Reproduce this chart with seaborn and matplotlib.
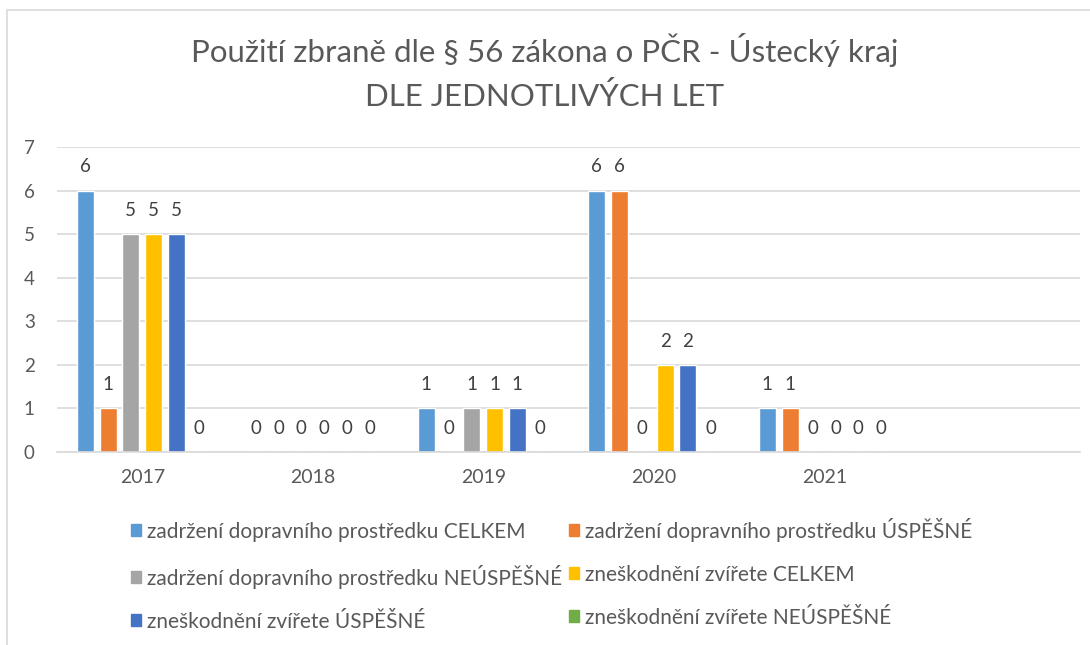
import numpy as np
import pandas as pd
import matplotlib
matplotlib.use("Agg")
import matplotlib.pyplot as plt
import seaborn as sns
from matplotlib.patches import Rectangle

# data
years = ['2017', '2018', '2019', '2020', '2021']
series = ['zadržení dopravního prostředku CELKEM',
          'zadržení dopravního prostředku ÚSPĚŠNÉ',
          'zadržení dopravního prostředku NEÚSPĚŠNÉ',
          'zneškodnění zvířete CELKEM',
          'zneškodnění zvířete ÚSPĚŠNÉ',
          'zneškodnění zvířete NEÚSPĚŠNÉ']
zadrz_celkem = [6, 0, 1, 6, 1]
zadrz_uspesne = [1, 0, 0, 6, 1]
zadrz_neuspesne = [5, 0, 1, 0, 0]
zvire_celkem = [5, 0, 1, 2, 0]
zvire_uspesne = [5, 0, 1, 2, 0]
zvire_neuspesne = [0, 0, 0, 0, 0]
colors = ['#5B9BD5', '#ED7D31', '#A5A5A5', '#FFC000', '#4472C4', '#70AD47']

all_vals = [zadrz_celkem, zadrz_uspesne, zadrz_neuspesne,
            zvire_celkem, zvire_uspesne, zvire_neuspesne]
rows = []
for name, vals in zip(series, all_vals):
    for y, v in zip(years, vals):
        rows.append((y, name, v))
df = pd.DataFrame(rows, columns=['rok', 'serie', 'pocet'])

sns.set_style('white')
plt.rcParams['font.family'] = ['Lato', 'DejaVu Sans']
txt = '#595959'

fig = plt.figure(figsize=(10.9, 6.45), dpi=100)
ax = fig.add_axes([57/1090, 193/645, (1080-57)/1090, (452-147)/645])

# empty sixth slot like in the original
order = years + ['']
sns.barplot(data=df, x='rok', y='pocet', hue='serie', order=order,
            hue_order=series, palette=colors, width=0.8, gap=0.25,
            saturation=1, legend=False, ax=ax, errorbar=None)

for c in ax.containers:
    ax.bar_label(c, padding=11, fontsize=13.5, color='#404040')

ax.set_xlim(-0.5, 5.5)
ax.set_ylim(0, 7)
ax.set_yticks(range(8))
ax.yaxis.grid(True, color='#D9D9D9', linewidth=1.2)
ax.set_axisbelow(True)
ax.set_xlabel('')
ax.set_ylabel('')
for s in ['left', 'right', 'top']:
    ax.spines[s].set_visible(False)
ax.spines['bottom'].set_color('#D9D9D9')
ax.spines['bottom'].set_linewidth(1.2)
ax.tick_params(axis='y', length=0, pad=16, labelsize=13.5, labelcolor=txt)
ax.tick_params(axis='x', which='major', length=0, pad=12, labelsize=14, labelcolor=txt)
ax.set_xticks(np.arange(-0.5, 6, 1), minor=True)
ax.tick_params(axis='x', which='minor', length=6, color='#D9D9D9', width=1.2, direction='out')

fig.text(0.5, 1 - 50/645, 'Použití zbraně dle § 56 zákona o PČR - Ústecký kraj',
         ha='center', va='center', fontsize=22.5, color=txt)
fig.text(0.5, 1 - 97/645, 'DLE JEDNOTLIVÝCH LET',
         ha='center', va='center', fontsize=22.5, color=txt)

# legend row-wise like excel: reorder for column-first filling
handles = [Rectangle((0, 0), 1, 1, color=c) for c in colors]
idx = [0, 2, 4, 1, 3, 5]
fig.legend([handles[i] for i in idx], [series[i] for i in idx], ncol=2,
           loc='upper left', bbox_to_anchor=(112/1090, 1 - 499/645),
           frameon=False, fontsize=15, labelcolor=txt,
           handlelength=0.5, handleheight=0.5, handletextpad=0.3,
           columnspacing=0.3, labelspacing=1.1)

fig.patches.append(Rectangle((7/1090, -0.1), 1.2, 1.1 - 10/645,
                             transform=fig.transFigure, fill=False,
                             edgecolor='#D9D9D9', linewidth=1.2))

fig.savefig('out.png', dpi=100)
